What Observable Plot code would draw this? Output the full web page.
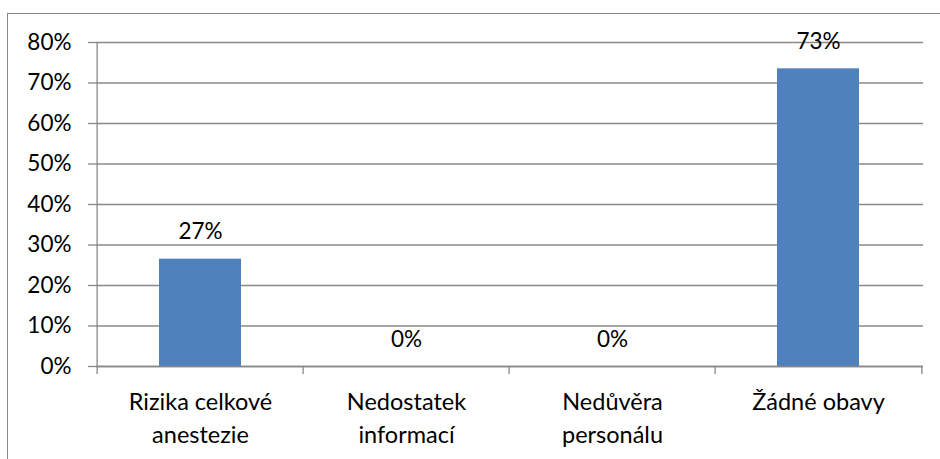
<!DOCTYPE html>
<html><head><meta charset="utf-8">
<script src="https://cdn.jsdelivr.net/npm/d3@7"></script>
<script src="https://cdn.jsdelivr.net/npm/@observablehq/plot@0.6"></script>
<style>
html,body{margin:0;padding:0;background:#fff;overflow:hidden;}
#wrap{position:relative;width:940px;height:459px;}
#border{position:absolute;left:7px;top:13px;width:940px;height:460px;border-left:1px solid #888;border-top:1px solid #888;box-sizing:border-box;pointer-events:none;}
#chart{position:absolute;left:0;top:0;}
</style></head>
<body><div id="wrap"><div id="chart"></div><div id="border"></div></div>
<script>
const categories = ["Rizika celkové\nanestezie", "Nedostatek\ninformací", "Nedůvěra\npersonálu", "Žádné obavy"];
const values = [26.5, 0, 0, 73.5];
const labels = ["27%", "0%", "0%", "73%"];
const yTicks = [0, 10, 20, 30, 40, 50, 60, 70, 80];

const data = categories.map((c, i) => ({cat: c, value: values[i], label: labels[i]}));
const W = 940, H = 459, mL = 96, mR = 17, mT = 42, mB = 93;
const step = (W - mL - mR) / categories.length;
const font = "Lato, 'Noto Sans', sans-serif";
const fs = 22.5;
const fsCat = 23.5;
const grey = "#888";

const chart = Plot.plot({
  width: W, height: H,
  marginLeft: mL, marginRight: mR, marginTop: mT, marginBottom: mB,
  style: {fontFamily: font, fontSize: fs + "px", color: "#000", background: "transparent"},
  x: {domain: categories, paddingInner: 0.6, paddingOuter: 0.3, label: null},
  y: {domain: [0, 80], label: null},
  marks: [
    Plot.gridY(yTicks, {stroke: grey, strokeOpacity: 1, strokeWidth: 1.3}),
    Plot.axisY(yTicks, {tickSize: 8, tickPadding: 17, stroke: grey, strokeWidth: 1.3, tickFormat: d => d + "%", fontSize: fs, label: null, fill: "#000"}),
    Plot.barY(data, {x: "cat", y: "value", fill: "#4F81BD"}),
    Plot.ruleY([0], {stroke: grey, strokeWidth: 1.3}),
    Plot.ruleX([categories[0]], {x: d => d, dx: -step / 2, y1: 0, y2: 80, stroke: grey, strokeWidth: 1.3}),
    Plot.ruleX(categories, {x: d => d, dx: -step / 2, y1: 0, y2: 0, insetBottom: -8, stroke: grey, strokeWidth: 1.3}),
    Plot.ruleX([categories[categories.length - 1]], {x: d => d, dx: step / 2, y1: 0, y2: 0, insetBottom: -8, stroke: grey, strokeWidth: 1.3}),
    Plot.text(data, {x: "cat", y: "value", text: "label", dy: -27, fontSize: fs, fill: "#000"}),
    Plot.axisX({tickSize: 0, tickPadding: 20, fontSize: fsCat, lineHeight: 1.4, label: null, fill: "#000"})
  ]
});
document.getElementById("chart").appendChild(chart);
</script></body></html>
